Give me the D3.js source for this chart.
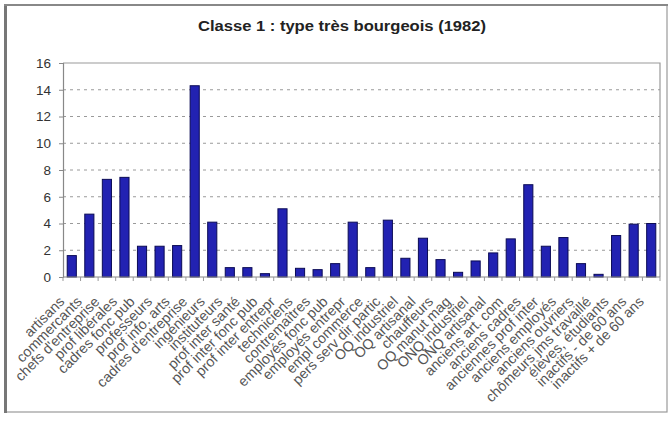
<!DOCTYPE html>
<html>
<head>
<meta charset="utf-8">
<script src="https://cdn.jsdelivr.net/npm/d3@7/dist/d3.min.js"></script>
<style>
  html, body { margin: 0; padding: 0; background: #fff; }
  svg { display: block; }
</style>
</head>
<body>
<svg id="chart" width="672" height="423"></svg>
<script>
// Socio-professional categories (PCS) and their share in class 1
const categories = [
  "artisans", "commercants", "chefs d'entreprise", "prof libérales",
  "cadres fonc pub", "professeurs", "prof info. arts", "cadres d'entreprise",
  "ingénieurs", "instituteurs", "prof inter santé", "prof inter fonc pub",
  "prof inter entrepr", "techniciens", "contremaîtres", "employés fonc pub",
  "employés entrepr", "empl commerce", "pers serv dir partic", "OQ industriel",
  "OQ artisanal", "chauffeurs", "OQ manut mag", "ONQ industriel",
  "ONQ artisanal", "anciens art. com", "anciens cadres", "anciennes prof inter",
  "anciens employés", "anciens ouvriers", "chômeurs jms travaillé",
  "élèves, étudiants", "inactifs - de 60 ans", "inactifs + de 60 ans"
];
const values = [
  1.6, 4.7, 7.3, 7.45, 2.3, 2.3, 2.35, 14.3,
  4.1, 0.7, 0.7, 0.25, 5.1, 0.65, 0.55, 1.0,
  4.1, 0.7, 4.25, 1.4, 2.9, 1.3, 0.35, 1.2,
  1.8, 2.85, 6.9, 2.3, 2.95, 1.0, 0.2, 3.1,
  3.95, 4.0
];
const yTicks = [0, 2, 4, 6, 8, 10, 12, 14, 16];
const title = "Classe 1 : type très bourgeois (1982)";

const svg = d3.select("#chart");
const plot = { left: 63, top: 63, right: 660, bottom: 277 };
const font = "Liberation Sans, Arial, sans-serif";

// outer chart frame
svg.append("rect")
  .attr("x", 5).attr("y", 5).attr("width", 662).attr("height", 407)
  .attr("fill", "#fff").attr("stroke", "#9a9a9a").attr("stroke-width", 1.2);
svg.append("line")
  .attr("x1", 5.5).attr("x2", 5.5).attr("y1", 4).attr("y2", 413)
  .attr("stroke", "#777").attr("stroke-width", 3);
svg.append("line")
  .attr("x1", 4).attr("x2", 668).attr("y1", 5).attr("y2", 5)
  .attr("stroke", "#888").attr("stroke-width", 2);

// title, set slightly wide
svg.append("text")
  .attr("x", 342).attr("y", 31)
  .attr("text-anchor", "middle")
  .attr("font-family", font)
  .attr("font-weight", "bold").attr("font-size", 14)
  .attr("textLength", 288).attr("lengthAdjust", "spacingAndGlyphs")
  .attr("fill", "#222")
  .text(title);

const x = d3.scaleBand()
  .domain(categories)
  .range([plot.left, plot.right])
  .paddingInner(0.48).paddingOuter(0.24);

const y = d3.scaleLinear()
  .domain([0, 16])
  .range([plot.bottom, plot.top]);

// dashed gridlines
svg.append("g")
  .selectAll("line")
  .data(yTicks.filter(t => t > 0 && t < 16))
  .join("line")
  .attr("x1", plot.left).attr("x2", plot.right)
  .attr("y1", d => y(d)).attr("y2", d => y(d))
  .attr("stroke", "#9a9a9a").attr("stroke-width", 1)
  .attr("stroke-dasharray", "3,4");

// plot area border (top and right)
svg.append("path")
  .attr("d", `M${plot.left},${plot.top}H${plot.right}V${plot.bottom}`)
  .attr("fill", "none").attr("stroke", "#999").attr("stroke-width", 1.2);

// bars
svg.append("g")
  .selectAll("rect")
  .data(values)
  .join("rect")
  .attr("x", (d, i) => x(categories[i]))
  .attr("y", d => y(d))
  .attr("width", x.bandwidth())
  .attr("height", d => y(0) - y(d))
  .attr("fill", "#2222b2")
  .attr("stroke", "#0b0b55").attr("stroke-width", 1);

// y axis
const yAxis = svg.append("g")
  .attr("transform", `translate(${plot.left},0)`)
  .call(d3.axisLeft(y).tickValues(yTicks).tickSize(4).tickPadding(8).tickFormat(d3.format("d")));
yAxis.select(".domain").attr("stroke", "#888").attr("stroke-width", 1.2);
yAxis.selectAll(".tick line").attr("stroke", "#888");
yAxis.selectAll(".tick text")
  .attr("font-family", font)
  .attr("font-size", 13.5).attr("fill", "#333");

// x axis with ticks between categories
const xAxis = svg.append("g")
  .attr("transform", `translate(0,${plot.bottom})`);
xAxis.append("line")
  .attr("x1", plot.left).attr("x2", plot.right)
  .attr("stroke", "#888").attr("stroke-width", 1.2);
const step = x.step();
xAxis.selectAll("line.tk")
  .data(d3.range(categories.length + 1))
  .join("line").attr("class", "tk")
  .attr("x1", i => plot.left + i * step).attr("x2", i => plot.left + i * step)
  .attr("y1", 0).attr("y2", 4)
  .attr("stroke", "#999");

// rotated category labels
xAxis.selectAll("text.lbl")
  .data(categories)
  .join("text").attr("class", "lbl")
  .attr("transform", d => `translate(${x(d) + x.bandwidth() / 2 - 10},${22}) rotate(-45)`)
  .attr("text-anchor", "end")
  .attr("dy", "0.35em")
  .attr("font-family", font)
  .attr("font-size", 14.3)
  .attr("fill", "#555")
  .text(d => d);
</script>
</body>
</html>
